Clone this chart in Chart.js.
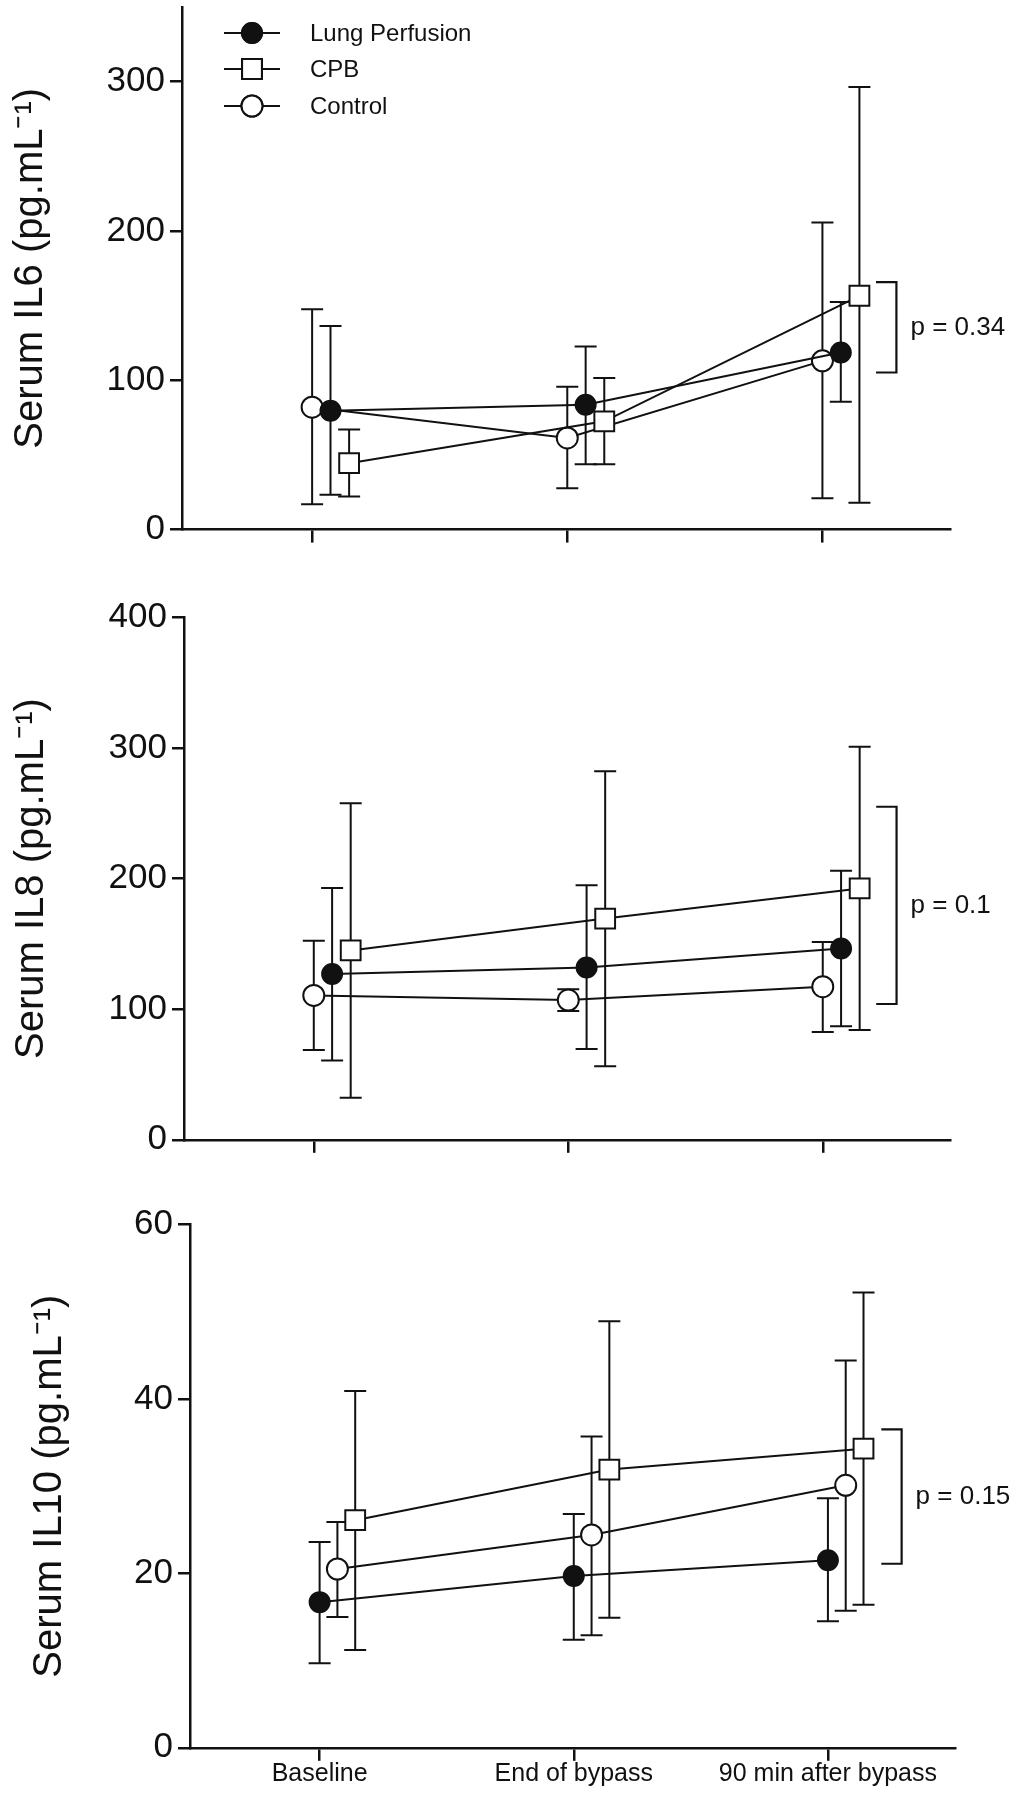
<!DOCTYPE html>
<html>
<head>
<meta charset="utf-8">
<script src="https://cdn.jsdelivr.net/npm/chart.js@4.4.1/dist/chart.umd.min.js"></script>
<style>
  body { margin: 0; background: #fff; }
  canvas { position: absolute; left: 0; }
</style>
</head>
<body>
<canvas id="il6" width="1021" height="560" style="top:0px"></canvas>
<canvas id="il8" width="1021" height="600" style="top:560px"></canvas>
<canvas id="il10" width="1021" height="640" style="top:1160px"></canvas>
<script>
const timepoints = ['Baseline', 'End of bypass', '90 min after bypass'];
const groups = ['Lung Perfusion', 'CPB', 'Control'];

// IL6 (mean, upper and lower error bar ends)
const il6Lung = [79.6, 83.6, 118.6];
const il6LungHi = [136.3, 122.7, 152.5];
const il6LungLo = [23.4, 43.8, 85.6];
const il6Cpb = [44.5, 72.5, 156.6];
const il6CpbHi = [67, 101.6, 296.5];
const il6CpbLo = [22.2, 43.8, 18];
const il6Ctrl = [82, 61.4, 113];
const il6CtrlHi = [147.5, 95.6, 205.6];
const il6CtrlLo = [17, 27.7, 21];
const il6Ticks = [0, 100, 200, 300];
const il6Bracket = [105.2, 165.7];
const il6P = 'p = 0.34';

// IL8
const il8Lung = [126.9, 131.9, 146.5];
const il8LungHi = [192.8, 194.9, 206];
const il8LungLo = [60.7, 69.5, 87];
const il8Cpb = [145, 169.4, 192.5];
const il8CpbHi = [257.6, 282.2, 301];
const il8CpbLo = [32.2, 56.3, 84.1];
const il8Ctrl = [110.5, 107, 117.2];
const il8CtrlHi = [152.4, 115.2, 151.5];
const il8CtrlLo = [68.8, 98.7, 82.6];
const il8Ticks = [0, 100, 200, 300, 400];
const il8Bracket = [104, 255];
const il8P = 'p = 0.1';

// IL10
const il10Lung = [16.7, 19.7, 21.5];
const il10LungHi = [23.6, 26.8, 28.6];
const il10LungLo = [9.7, 12.4, 14.5];
const il10Cpb = [26.1, 31.9, 34.3];
const il10CpbHi = [40.9, 48.9, 52.2];
const il10CpbLo = [11.2, 14.9, 16.4];
const il10Ctrl = [20.5, 24.4, 30.1];
const il10CtrlHi = [25.9, 35.7, 44.4];
const il10CtrlLo = [15, 12.9, 15.7];
const il10Ticks = [0, 20, 40, 60];
const il10Bracket = [21.1, 36.5];
const il10P = 'p = 0.15';

const FONT = "'Liberation Sans', Arial, Helvetica, sans-serif";
const INK = '#111';

const markerStyle = {
    lung: { pointStyle: 'circle', pointRadius: 10, pointBackgroundColor: INK },
    cpb: { pointStyle: 'rect', pointRadius: 14, pointBackgroundColor: '#fff' },
    ctrl: { pointStyle: 'circle', pointRadius: 10.5, pointBackgroundColor: '#fff' },
};

const makeSeries = (key, label, mean, hi, lo, shift) => ({
    label,
    data: mean.map((v, i) => ({ x: i + shift, y: v })),
    hi,
    lo,
    borderColor: INK,
    borderWidth: 2,
    tension: 0,
    fill: false,
    pointBorderColor: INK,
    pointBorderWidth: 2,
    ...markerStyle[key],
});

const errorBars = {
    id: 'errorBars',
    beforeDatasetsDraw(chart) {
        const { ctx, scales: { x, y } } = chart;
        ctx.save();
        ctx.strokeStyle = INK;
        ctx.lineWidth = 2;
        chart.data.datasets.forEach(ds => {
            ds.data.forEach((pt, i) => {
                const px = x.getPixelForValue(pt.x);
                const top = y.getPixelForValue(ds.hi[i]);
                const bot = y.getPixelForValue(ds.lo[i]);
                ctx.beginPath();
                ctx.moveTo(px, top); ctx.lineTo(px, bot);
                ctx.moveTo(px - 11, top); ctx.lineTo(px + 11, top);
                ctx.moveTo(px - 11, bot); ctx.lineTo(px + 11, bot);
                ctx.stroke();
            });
        });
        ctx.restore();
    },
};

const bracketPlugin = {
    id: 'bracket',
    afterDraw(chart, args, opts) {
        const { ctx, scales: { x, y } } = chart;
        const x1 = x.getPixelForValue(2.21);
        const x2 = x.getPixelForValue(2.29);
        const yTop = y.getPixelForValue(opts.range[1]);
        const yBot = y.getPixelForValue(opts.range[0]);
        ctx.save();
        ctx.strokeStyle = INK;
        ctx.lineWidth = 2.2;
        ctx.beginPath();
        ctx.moveTo(x1, yTop); ctx.lineTo(x2, yTop);
        ctx.lineTo(x2, yBot); ctx.lineTo(x1, yBot);
        ctx.stroke();
        ctx.fillStyle = INK;
        ctx.font = '26px ' + FONT;
        ctx.textAlign = 'left';
        ctx.textBaseline = 'middle';
        ctx.fillText(opts.text, x.getPixelForValue(2.345), (yTop + yBot) / 2);
        ctx.restore();
    },
};

const legendPlugin = {
    id: 'groupLegend',
    afterDraw(chart, args, opts) {
        if (!opts.show) return;
        const { ctx } = chart;
        const rows = [33, 69, 106];
        const keys = ['lung', 'cpb', 'ctrl'];
        ctx.save();
        ctx.strokeStyle = INK;
        ctx.fillStyle = INK;
        groups.forEach((name, i) => {
            const yy = rows[i];
            ctx.lineWidth = 2;
            ctx.beginPath();
            ctx.moveTo(224, yy); ctx.lineTo(280, yy);
            ctx.stroke();
            const st = markerStyle[keys[i]];
            Chart.helpers.drawPoint(ctx, {
                pointStyle: st.pointStyle,
                radius: st.pointRadius,
                rotation: 0,
                borderWidth: 2,
            }, 252, yy);
            ctx.fillStyle = st.pointBackgroundColor;
            ctx.lineWidth = 2;
            ctx.fill();
            ctx.stroke();
            ctx.fillStyle = INK;
            ctx.font = '24px ' + FONT;
            ctx.textAlign = 'left';
            ctx.textBaseline = 'middle';
            ctx.fillText(name, 310, yy + 1);
        });
        ctx.restore();
    },
};

const makePanel = (p) => {
    const areaTop = p.area.top - p.canvasTop;
    const areaBottom = p.area.bottom - p.canvasTop;
    const canvasH = document.getElementById(p.id).height;
    const series = {
        lung: makeSeries('lung', groups[0], p.lung, p.lungHi, p.lungLo, p.shift.lung),
        cpb: makeSeries('cpb', groups[1], p.cpb, p.cpbHi, p.cpbLo, p.shift.cpb),
        ctrl: makeSeries('ctrl', groups[2], p.ctrl, p.ctrlHi, p.ctrlLo, p.shift.ctrl),
    };
    return new Chart(document.getElementById(p.id), {
        type: 'line',
        data: { datasets: p.order.map(k => series[k]) },
        options: {
            responsive: false,
            animation: false,
            events: [],
            layout: {
                autoPadding: false,
                padding: { top: areaTop, left: 0, right: 1021 - p.area.right, bottom: 0 },
            },
            plugins: {
                legend: { display: false },
                tooltip: { enabled: false },
                bracket: { range: p.bracket, text: p.pText },
                groupLegend: { show: !!p.legend },
            },
            scales: {
                x: {
                    type: 'linear',
                    min: -0.51,
                    max: 2.5,
                    afterBuildTicks: s => { s.ticks = timepoints.map((t, i) => ({ value: i })); },
                    afterFit: s => {
                        s.height = canvasH - areaBottom;
                        s.paddingLeft = 0;
                        s.paddingRight = 0;
                    },
                    grid: { drawOnChartArea: false, color: INK, lineWidth: 2.5, tickLength: 13 },
                    border: { color: INK, width: 2.5 },
                    ticks: {
                        color: INK,
                        padding: -2,
                        maxRotation: 0,
                        autoSkip: false,
                        font: { family: FONT, size: 25 },
                        callback: v => (p.xLabels ? timepoints[v] : ''),
                    },
                },
                y: {
                    min: 0,
                    max: p.yMax,
                    afterBuildTicks: s => { s.ticks = p.yTicks.map(v => ({ value: v })); },
                    afterFit: s => {
                        s.width = p.area.left;
                        s.paddingTop = 0;
                        s.paddingBottom = 0;
                    },
                    grid: { drawOnChartArea: false, color: INK, lineWidth: 2.5, tickLength: 12 },
                    border: { color: INK, width: 2.5 },
                    ticks: { color: INK, padding: 5, font: { family: FONT, size: 35 } },
                    title: {
                        display: true,
                        text: p.title,
                        color: INK,
                        padding: { top: p.titlePad, bottom: 0 },
                        font: { family: FONT, size: 40 },
                    },
                },
            },
        },
        plugins: [errorBars, bracketPlugin, legendPlugin],
    });
};

makePanel({
    id: 'il6', canvasTop: 0,
    area: { top: 7, bottom: 529.6, left: 182, right: 950 },
    yMax: 350, yTicks: il6Ticks,
    title: 'Serum IL6 (pg.mL⁻¹)', titlePad: 7,
    lung: il6Lung, lungHi: il6LungHi, lungLo: il6LungLo,
    cpb: il6Cpb, cpbHi: il6CpbHi, cpbLo: il6CpbLo,
    ctrl: il6Ctrl, ctrlHi: il6CtrlHi, ctrlLo: il6CtrlLo,
    shift: { ctrl: 0, lung: 0.072, cpb: 0.145 },
    order: ['lung', 'cpb', 'ctrl'],
    bracket: il6Bracket, pText: il6P,
    xLabels: false, legend: true,
});

makePanel({
    id: 'il8', canvasTop: 560,
    area: { top: 617.4, bottom: 1139.8, left: 184, right: 950 },
    yMax: 400, yTicks: il8Ticks,
    title: 'Serum IL8 (pg.mL⁻¹)', titlePad: 8,
    lung: il8Lung, lungHi: il8LungHi, lungLo: il8LungLo,
    cpb: il8Cpb, cpbHi: il8CpbHi, cpbLo: il8CpbLo,
    ctrl: il8Ctrl, ctrlHi: il8CtrlHi, ctrlLo: il8CtrlLo,
    shift: { ctrl: 0, lung: 0.072, cpb: 0.145 },
    order: ['lung', 'cpb', 'ctrl'],
    bracket: il8Bracket, pText: il8P,
    xLabels: false, legend: false,
});

makePanel({
    id: 'il10', canvasTop: 1160,
    area: { top: 1224.5, bottom: 1747.8, left: 190, right: 955 },
    yMax: 60, yTicks: il10Ticks,
    title: 'Serum IL10 (pg.mL⁻¹)', titlePad: 26,
    lung: il10Lung, lungHi: il10LungHi, lungLo: il10LungLo,
    cpb: il10Cpb, cpbHi: il10CpbHi, cpbLo: il10CpbLo,
    ctrl: il10Ctrl, ctrlHi: il10CtrlHi, ctrlLo: il10CtrlLo,
    shift: { lung: 0, ctrl: 0.07, cpb: 0.14 },
    order: ['lung', 'ctrl', 'cpb'],
    bracket: il10Bracket, pText: il10P,
    xLabels: true, legend: false,
});
</script>
</body>
</html>
